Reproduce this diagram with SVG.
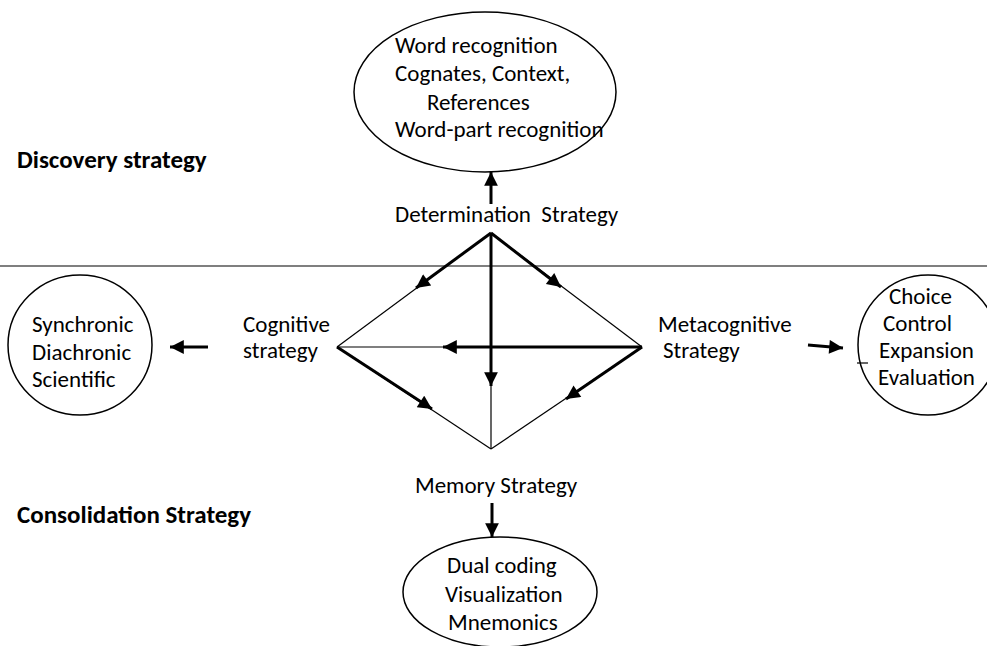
<svg xmlns="http://www.w3.org/2000/svg" width="987" height="646" viewBox="0 0 987 646">
<defs>
<marker id="ah" viewBox="0 0 10 10" refX="10" refY="5" markerWidth="5.3" markerHeight="4.6" orient="auto" markerUnits="strokeWidth">
<path d="M0,0 L10,5 L0,10 Z" fill="#000"/>
</marker>
<style>
text{font-family:Carlito,Lato,"Liberation Sans",sans-serif;font-size:23px;fill:#000}
.b{font-weight:bold;font-size:25px}
.thin{stroke:#000;stroke-width:1.2;fill:none}
.bold{stroke:#000;stroke-width:3;fill:none;marker-end:url(#ah)}
.node{fill:#fff;stroke:#000;stroke-width:1.5}
</style>
</defs>
<rect width="987" height="646" fill="#fff"/>
<text class="b" x="17" y="168">Discovery strategy</text>
<text class="b" x="17" y="523">Consolidation Strategy</text>
<line class="thin" x1="0" y1="266" x2="987" y2="266"/>
<g id="connectors">
<line class="thin" x1="491" y1="233" x2="337" y2="347"/>
<line class="thin" x1="491" y1="233" x2="642" y2="347"/>
<line class="thin" x1="337" y1="347" x2="491" y2="449"/>
<line class="thin" x1="642" y1="347" x2="491" y2="449"/>
<line class="thin" x1="337" y1="347" x2="642" y2="347"/>
<line class="thin" x1="491" y1="233" x2="491" y2="449"/>
<line class="bold" x1="491" y1="233" x2="416" y2="288"/>
<line class="bold" x1="491" y1="233" x2="561" y2="287"/>
<line class="bold" x1="491" y1="233" x2="491" y2="386"/>
<line class="bold" x1="642" y1="347" x2="443" y2="347"/>
<line class="bold" x1="337" y1="347" x2="432" y2="409"/>
<line class="bold" x1="642" y1="347" x2="566" y2="399"/>
<line class="bold" x1="491" y1="204" x2="491" y2="172"/>
<line class="bold" x1="208" y1="347" x2="170" y2="347"/>
<line class="bold" x1="808" y1="345" x2="843" y2="348"/>
<line class="bold" x1="492" y1="503" x2="492" y2="537"/>
</g>
<g id="word-recognition">
<ellipse class="node" cx="485" cy="92" rx="131" ry="80"/>
<text x="395" y="53">Word recognition</text>
<text x="395" y="81">Cognates, Context,</text>
<text x="427" y="110">References</text>
<text x="395" y="137">Word-part recognition</text>
</g>
<g id="determination">
<text x="395" y="222" xml:space="preserve">Determination  Strategy</text>
</g>
<g id="cognitive">
<text x="243" y="332">Cognitive</text>
<text x="243" y="358">strategy</text>
</g>
<g id="synchronic">
<ellipse class="node" cx="80" cy="345" rx="72" ry="70"/>
<text x="32" y="332">Synchronic</text>
<text x="32" y="360">Diachronic</text>
<text x="32" y="387">Scientific</text>
</g>
<g id="metacognitive">
<text x="658" y="332">Metacognitive</text>
<text x="663" y="358">Strategy</text>
</g>
<g id="choice">
<ellipse class="node" cx="928" cy="345" rx="70" ry="70"/>
<line class="thin" x1="857" y1="363" x2="868" y2="363"/>
<text x="889" y="304">Choice</text>
<text x="883" y="331">Control</text>
<text x="879" y="358">Expansion</text>
<text x="878" y="385">Evaluation</text>
</g>
<g id="memory">
<text x="415" y="493">Memory Strategy</text>
</g>
<g id="dual-coding">
<ellipse class="node" cx="500" cy="592" rx="97" ry="55"/>
<text x="447" y="573">Dual coding</text>
<text x="445" y="602">Visualization</text>
<text x="448" y="630">Mnemonics</text>
</g>
</svg>
